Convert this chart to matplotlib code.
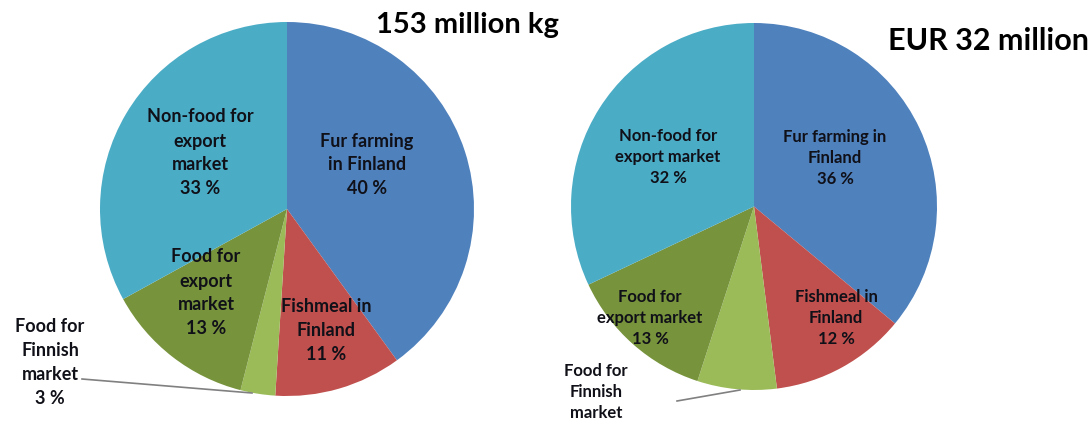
import matplotlib
matplotlib.use("Agg")
import matplotlib.pyplot as plt

# ---- data ----
categories = ["Fur farming in Finland", "Fishmeal in Finland", "Food for Finnish market",
              "Food for export market", "Non-food for export market"]
volume_pct = [40, 11, 3, 13, 33]       # 153 million kg
value_pct = [36, 12, 7, 13, 32]        # EUR 32 million
titles = ["153 million kg", "EUR 32 million"]

colors = ["#4F81BD", "#C0504D", "#9BBB59", "#77933C", "#4BACC6"]

plt.rcParams['font.family'] = ['Lato', 'DejaVu Sans']

W, H = 1092, 422
fig = plt.figure(figsize=(W / 100, H / 100), dpi=100)


def px(x, y):
    return x / W, 1 - y / H


def make_axes(x0, y0, x1, y1):
    return fig.add_axes([x0 / W, 1 - y1 / H, (x1 - x0) / W, (y1 - y0) / H])


txtc = "#101018"

# ---- left pie ----
axL = make_axes(100, 22, 474, 396)
axL.pie(volume_pct, colors=colors, startangle=90, counterclock=False,
        wedgeprops=dict(linewidth=0))
axL.set_xlim(-1, 1); axL.set_ylim(-1, 1); axL.set_aspect('auto'); axL.axis('off')

fsL = 13.0
lsL = 1.5
fig.text(*px(367, 165), f"Fur farming\nin Finland\n{volume_pct[0]} %", ha='center', va='center',
         fontsize=fsL, fontweight='bold', color=txtc, linespacing=lsL)
fig.text(*px(326, 330), f"Fishmeal in\nFinland\n{volume_pct[1]} %", ha='center', va='center',
         fontsize=fsL, fontweight='bold', color=txtc, linespacing=lsL)
fig.text(*px(206, 293), f"Food for\nexport\nmarket\n{volume_pct[3]} %", ha='center', va='center',
         fontsize=fsL, fontweight='bold', color=txtc, linespacing=lsL)
fig.text(*px(200, 153), f"Non-food for\nexport\nmarket\n{volume_pct[4]} %", ha='center', va='center',
         fontsize=fsL, fontweight='bold', color=txtc, linespacing=lsL)
fig.text(*px(50, 362), f"Food for\nFinnish\nmarket\n{volume_pct[2]} %", ha='center', va='center',
         fontsize=fsL, fontweight='bold', color=txtc, linespacing=lsL)
fig.add_artist(plt.Line2D([82 / W, 252 / W], [1 - 379 / H, 1 - 393 / H], color="#808080", lw=1.2))

fig.text(*px(467, 25), titles[0], ha='center', va='center', fontsize=21, fontweight='bold', color='black')

# ---- right pie ----
axR = make_axes(571, 23, 937, 390)
axR.pie(value_pct, colors=colors, startangle=90, counterclock=False,
        wedgeprops=dict(linewidth=0))
axR.set_xlim(-1, 1); axR.set_ylim(-1, 1); axR.set_aspect('auto'); axR.axis('off')

fsR = 12.0
lsR = 1.4
fig.text(*px(835, 158), f"Fur farming in\nFinland\n{value_pct[0]} %", ha='center', va='center',
         fontsize=fsR, fontweight='bold', color=txtc, linespacing=lsR)
fig.text(*px(836, 318), f"Fishmeal in\nFinland\n{value_pct[1]} %", ha='center', va='center',
         fontsize=fsR, fontweight='bold', color=txtc, linespacing=lsR)
fig.text(*px(650, 318), f"Food for\nexport market\n{value_pct[3]} %", ha='center', va='center',
         fontsize=fsR, fontweight='bold', color=txtc, linespacing=lsR)
fig.text(*px(668, 157), f"Non-food for\nexport market\n{value_pct[4]} %", ha='center', va='center',
         fontsize=fsR, fontweight='bold', color=txtc, linespacing=lsR)
fig.text(*px(596, 392), "Food for\nFinnish\nmarket", ha='center', va='center',
         fontsize=fsR, fontweight='bold', color=txtc, linespacing=lsR)
fig.add_artist(plt.Line2D([677 / W, 740 / W], [1 - 401 / H, 1 - 390 / H], color="#808080", lw=1.2))

fig.text(*px(988, 41), titles[1], ha='center', va='center', fontsize=22, fontweight='bold', color='black')

fig.savefig("out.png", dpi=100, facecolor='white')
